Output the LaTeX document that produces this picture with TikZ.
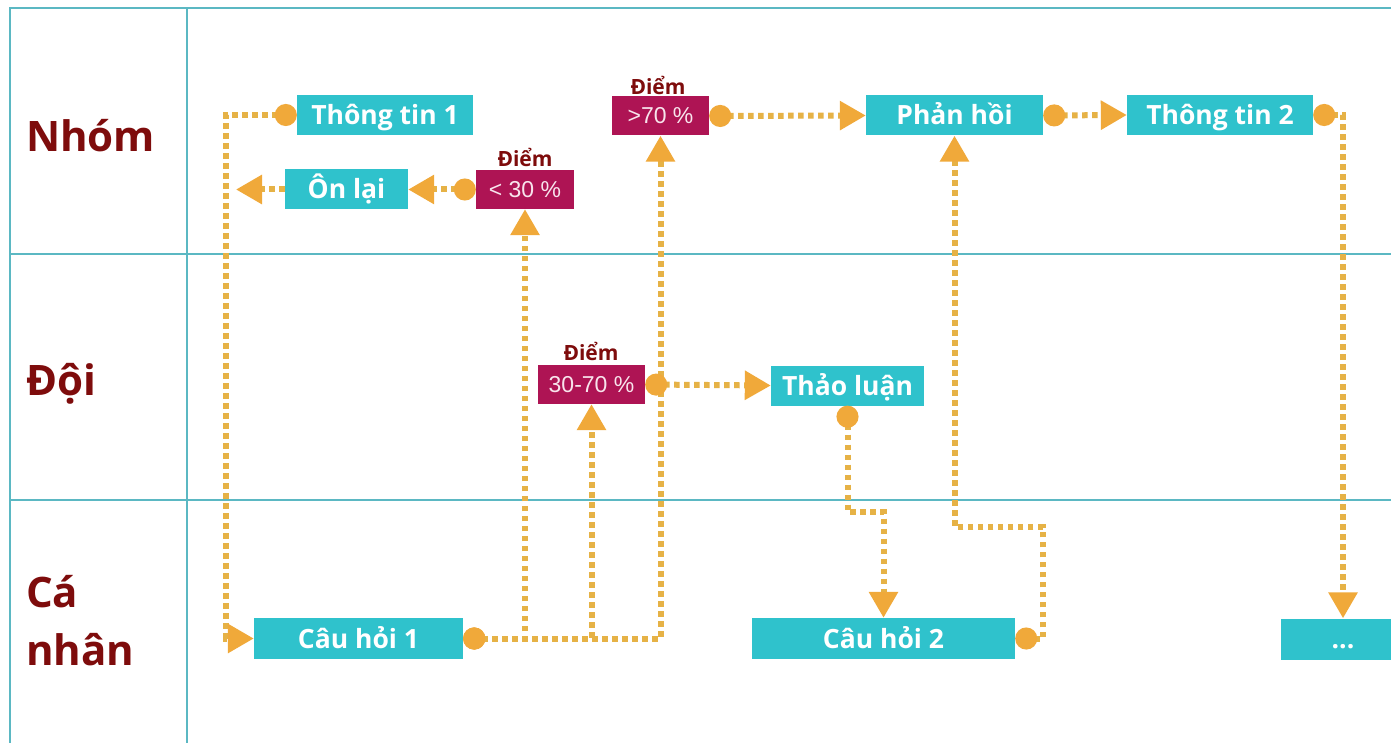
\documentclass[tikz,border=0pt]{standalone}
\usepackage{fontspec}
\setmainfont{Open Sans}
\newfontfamily\pctfont{Liberation Sans}
\usetikzlibrary{arrows.meta}

\definecolor{laneline}{HTML}{5BB8C3}
\definecolor{boxcyan}{HTML}{2FC2CC}
\definecolor{scoremag}{HTML}{AE1454}
\definecolor{scoretext}{HTML}{F8E4EC}
\definecolor{labelred}{HTML}{7E0C0C}
\definecolor{flowdot}{HTML}{E6B246}
\definecolor{flowtip}{HTML}{F0A93A}

\tikzset{
  lanerule/.style={draw=laneline, line width=2.4pt},
  lanename/.style={text=labelred, font=\fontsize{42}{58}\selectfont\bfseries,
                   anchor=west, align=left, inner sep=0pt},
  stepbox/.style={fill=boxcyan, text=white, font=\fontsize{26.5}{30}\selectfont\bfseries,
                  minimum height=40pt, inner sep=0pt, text height=22.5pt, text depth=3.5pt},
  scorebox/.style={fill=scoremag, text=scoretext, font=\pctfont\fontsize{23}{28}\selectfont,
                   minimum height=39pt, inner sep=0pt},
  scoretag/.style={text=labelred, font=\fontsize{21}{24}\selectfont\bfseries, inner sep=0pt},
  flow/.style={draw=flowdot, line width=6pt, dash pattern=on 5.5pt off 4.5pt,
               -{Triangle[length=26pt,width=28pt,color=flowtip]}},
  startdot/.style={{Circle[length=22pt,color=flowtip]}-{Triangle[length=26pt,width=28pt,color=flowtip]}},
}

\begin{document}
\begin{tikzpicture}[x=1pt, y=-1pt]
  \useasboundingbox (0,0) rectangle (1391,743);
  \fill[white] (0,0) rectangle (1391,743);

  % swimlane grid
  \draw[lanerule] (10,743) -- (10,8) -- (1391,8);
  \draw[lanerule] (187,8) -- (187,743);
  \draw[lanerule] (10,254) -- (1391,254);
  \draw[lanerule] (10,500) -- (1391,500);

  % lane names
  \node[lanename] (nhom) at (26,136) {Nhóm};
  \node[lanename] (doi)  at (26,384) {Đội};
  \node[lanename] (canhan) at (26,621) {Cá\\nhân};

  % activity boxes
  \node[stepbox, minimum width=176pt] (tt1)  at (385,115)    {Thông tin 1};
  \node[stepbox, minimum width=123pt] (ol)   at (346.5,189.5) {Ôn lại};
  \node[stepbox, minimum width=177pt] (pf)   at (954.5,115.5) {Phản hồi};
  \node[stepbox, minimum width=186pt] (tt2)  at (1220,115)   {Thông tin 2};
  \node[stepbox, minimum width=153pt] (tl)   at (847.5,385.5) {Thảo luận};
  \node[stepbox, minimum width=209pt, minimum height=41pt] (q1) at (358.5,638.5) {Câu hỏi 1};
  \node[stepbox, minimum width=263pt, minimum height=41pt] (q2) at (883.5,638.5) {Câu hỏi 2};
  \node[stepbox, minimum width=124pt, minimum height=41pt] (more) at (1343,639) {...};

  % score boxes
  \node[scorebox, minimum width=98pt]  (lt30)  at (525,189.5)  {< 30 \%};
  \node[scorebox, minimum width=97pt]  (gt70)  at (660.5,116)  {>70 \%};
  \node[scorebox, minimum width=107pt] (mid)   at (591.5,384.5) {30-70 \%};
  \node[scoretag] (tag1) at (525,157)  {Điểm};
  \node[scoretag] (tag2) at (658,85)   {Điểm};
  \node[scoretag] (tag3) at (591,351)  {Điểm};

  \coordinate (olend) at (236,189.5);

  % flows
  \draw[flow, startdot] (tt1.west) -- (226,115) |- (q1.west);
  \draw[flow, startdot] (q1.east) -| (lt30.south);
  \draw[flow, startdot] (q1.east) -| (mid.south);
  \draw[flow, startdot] (q1.east) -| (gt70.south);
  \draw[flow, startdot] (lt30.west) -- (ol.east);
  \draw[flow] (ol.west) -- (olend);
  \draw[flow, startdot] (gt70.east) -- (pf.west);
  \draw[flow, startdot] (mid.east) -- (tl.west);
  \draw[flow, startdot] (tl.south) -- (847.5,512) -| (q2.north);
  \draw[flow, startdot] (q2.east) -| (1043,527) -| (pf.south);
  \draw[flow, startdot] (pf.east) -- (tt2.west);
  \draw[flow, startdot] (tt2.east) -| (more.north);
\end{tikzpicture}
\end{document}
